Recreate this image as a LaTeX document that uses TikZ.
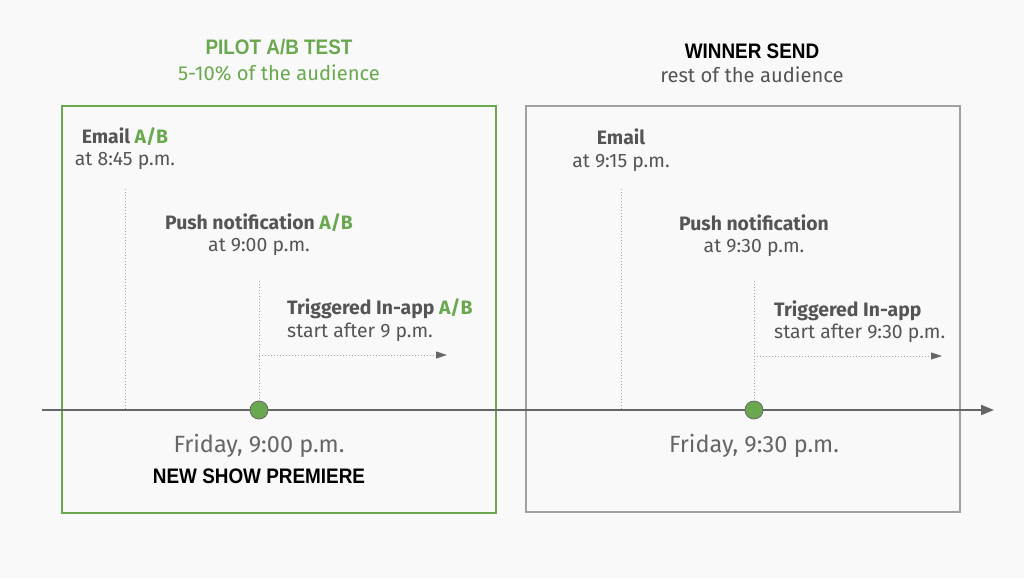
\documentclass[tikz,border=0pt]{standalone}
\usepackage{fontspec}
\setmainfont{Fira Sans}
\newfontfamily\condfont[FakeStretch=0.9]{Liberation Sans}
\usetikzlibrary{arrows.meta}
\definecolor{bgc}{HTML}{F9F9F9}
\definecolor{grn}{HTML}{6AA84F}
\definecolor{txt}{HTML}{555555}
\definecolor{lineg}{HTML}{666666}
\definecolor{boxg}{HTML}{A0A0A0}
\definecolor{dotg}{HTML}{A5A5A5}
\tikzset{
  lbl/.style={inner sep=0pt, text=txt, font=\fontsize{19.4}{23}\selectfont},
  lblb/.style={lbl, font=\fontsize{19.4}{23}\selectfont\bfseries},
  title/.style={inner sep=0pt, font=\fontsize{21}{24}\selectfont\condfont\bfseries},
  subt/.style={inner sep=0pt, font=\fontsize{20.2}{24}\selectfont},
  dayl/.style={inner sep=0pt, text=lineg, font=\fontsize{23.5}{28}\selectfont},
  guide/.style={dotg, line width=1pt, dotted},
  evt/.style={circle, fill=grn, draw=lineg, line width=0.8pt, minimum size=18pt, inner sep=0pt},
  frame/.style={line width=2pt}
}
\begin{document}
\begin{tikzpicture}[x=1pt,y=-1pt]
\fill[bgc] (0,0) rectangle (1024,578);
\useasboundingbox (0,0) rectangle (1024,578);
% frames
\draw[frame, grn] (62,106) rectangle (496,513);
\draw[frame, boxg] (526,106) rectangle (960,512);
% titles
\node[title, text=grn, anchor=base] (t1) at (279,55) {PILOT A/B TEST};
\node[subt, text=grn, anchor=base] (t1s) at (279,80) {5-10\% of the audience};
\node[title, text=black, anchor=base] (t2) at (752,59) {WINNER SEND};
\node[subt, text=txt, anchor=base] (t2s) at (752,82) {rest of the audience};
% timeline
\coordinate (tl0) at (42,410);
\coordinate (tl1) at (994,410);
\draw[lineg, line width=2pt, -{Triangle[length=13pt,width=10pt]}] (tl0) -- (tl1);
% left events
\node[lblb, anchor=base] (e1) at (125,143) {Email \textcolor{grn}{A/B}};
\node[lbl, anchor=base] (e1t) at (125,165) {at 8:45 p.m.};
\coordinate (e1top) at (125,189);
\coordinate (e1bot) at (125,410);
\draw[guide] (e1top) -- (e1bot);
\node[lblb, anchor=base] (p1) at (259,229) {Push notification \textcolor{grn}{A/B}};
\node[lbl, anchor=base] (p1t) at (259,251) {at 9:00 p.m.};
\node[lblb, anchor=base west] (i1) at (287,314) {Triggered In-app \textcolor{grn}{A/B}};
\node[lbl, anchor=base west] (i1t) at (287,337) {start after 9 p.m.};
\coordinate (p1top) at (259,281);
\coordinate (a1s) at (259,355);
\coordinate (a1e) at (447,355);
\node[evt] (d1) at (259,410) {};
\draw[guide] (p1top) -- (d1.north);
\draw[guide, -{Triangle[length=11pt,width=7pt,fill=lineg,color=lineg]}] (a1s) -- (a1e);
\node[dayl, anchor=base] (f1) at (259,452) {Friday, 9:00 p.m.};
\node[title, text=black, anchor=base] (ns) at (259,483) {NEW SHOW PREMIERE};
% right events
\node[lblb, anchor=base] (e2) at (621,144) {Email};
\node[lbl, anchor=base] (e2t) at (621,167) {at 9:15 p.m.};
\coordinate (e2top) at (621,189);
\coordinate (e2bot) at (621,410);
\draw[guide] (e2top) -- (e2bot);
\node[lblb, anchor=base] (p2) at (754,230) {Push notification};
\node[lbl, anchor=base] (p2t) at (754,252) {at 9:30 p.m.};
\node[lblb, anchor=base west] (i2) at (774,316) {Triggered In-app};
\node[lbl, anchor=base west] (i2t) at (774,338) {start after 9:30 p.m.};
\coordinate (p2top) at (754,281);
\coordinate (a2s) at (754,356);
\coordinate (a2e) at (942,356);
\node[evt] (d2) at (754,410) {};
\draw[guide] (p2top) -- (d2.north);
\draw[guide, -{Triangle[length=11pt,width=7pt,fill=lineg,color=lineg]}] (a2s) -- (a2e);
\node[dayl, anchor=base] (f2) at (754,452) {Friday, 9:30 p.m.};
\end{tikzpicture}
\end{document}
